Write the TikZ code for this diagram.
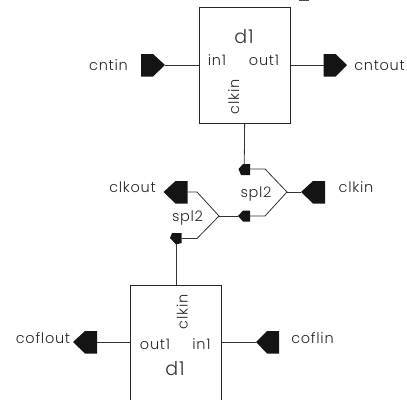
\documentclass[tikz,border=0pt]{standalone}
\usepackage{fontspec}
\setmainfont[LetterSpace=5]{Poppins Light}
\begin{document}
\begin{tikzpicture}[x=1pt,y=-1pt,
  wire/.style={draw=black!80,line width=0.8pt},
  pinfill/.style={fill=black!92,draw=none},
  lbl/.style={inner sep=0pt,text=black!85,anchor=base,font=\fontsize{14.5}{16}\selectfont},
  tt/.style={inner sep=0pt,text=black!80,anchor=base,font=\fontsize{19}{21}\selectfont}]
\useasboundingbox (0,0) rectangle (407,399);
\fill[black!70] (299,-1) rectangle (309,0.9);
% boxes
\node[draw=black!85,line width=0.8pt,minimum width=91.5pt,minimum height=115.5pt,inner sep=0pt,anchor=north west] (b1) at (198.5,7) {};
\node[draw=black!85,line width=0.8pt,minimum width=91.5pt,minimum height=125pt,inner sep=0pt,anchor=north west] (b2) at (129.5,284.7) {};
% labels
\node[tt] (d1a) at (244,43.3) {d1};
\node[lbl] (i1a) at (217,65.5) {in1};
\node[lbl] (o1a) at (264,65.5) {out1};
\node[lbl,rotate=90] (ca) at (239,97) {clkin};
\node[tt] (d1b) at (175,375) {d1};
\node[lbl] (o1b) at (155,349) {out1};
\node[lbl] (i1b) at (201.5,349) {in1};
\node[lbl,rotate=90] (cb) at (187.7,312) {clkin};
\node[lbl] (tcntin) at (108.5,70.7) {cntin};
\node[lbl] (tcntout) at (379.5,70.7) {cntout};
\node[lbl] (tclkout) at (132.5,192.7) {clkout};
\node[lbl] (tclkin) at (356,192.7) {clkin};
\node[lbl] (ts1) at (256,197) {spl2};
\node[lbl] (ts2) at (187.5,221.7) {spl2};
\node[lbl] (tcofout) at (43,343) {coflout};
\node[lbl] (tcofin) at (312.5,343) {coflin};
% pins
\fill[pinfill] (141,54) -- (153,54) -- (165,65) -- (153,76.5) -- (141,76.5) -- cycle;
\coordinate (pcntin) at (165,65);
\fill[pinfill] (323.5,54) -- (335.5,54) -- (347,65) -- (335.5,76.5) -- (323.5,76.5) -- cycle;
\coordinate (pcntout) at (323.5,65);
\fill[pinfill] (325,181) -- (313,181) -- (301,192) -- (313,203.5) -- (325,203.5) -- cycle;
\coordinate (pclkin) at (301,192);
\fill[pinfill] (187.5,181) -- (175.5,181) -- (163.5,192) -- (175.5,203.5) -- (187.5,203.5) -- cycle;
\coordinate (pclkout) at (187.5,192);
\fill[pinfill] (97,331) -- (85,331) -- (73,342) -- (85,353.5) -- (97,353.5) -- cycle;
\coordinate (pcofout) at (97,342);
\fill[pinfill] (279,331) -- (267,331) -- (256,342) -- (267,353.5) -- (279,353.5) -- cycle;
\coordinate (pcofin) at (256,342);
% small pins
\fill[pinfill] (250,164) -- (243,164) -- (238.5,169) -- (241,175) -- (250,175) -- cycle;
\coordinate (s1up) at (244.25,164.5);
\coordinate (s1r) at (250,169);
\fill[pinfill] (250,210.5) -- (243,210.5) -- (238,216) -- (243,221.5) -- (250,221.5) -- cycle;
\coordinate (s2l) at (238,216);
\coordinate (s2r) at (250,216);
\fill[pinfill] (172,233) -- (181.5,233) -- (181.5,243) -- (176,244.5) -- (170,238) -- cycle;
\coordinate (s3r) at (181.5,238.5);
\coordinate (s3d) at (176,244);
% splitter junctions
\coordinate (ja) at (287,192);
\coordinate (ja1) at (265,169);
\coordinate (ja2) at (265,216);
\coordinate (jb) at (219,216);
\coordinate (jb1) at (197,192);
\coordinate (jb2) at (197,238.5);
% wires
\draw[wire] (pcntin) -- (pcntin -| b1.west);
\draw[wire] (pcntout) -- (pcntout -| b1.east);
\draw[wire] (b1.south) -- (s1up);
\draw[wire] (s1r) -- (ja1) -- (ja) -- (ja2) -- (s2r);
\draw[wire] (ja) -- (pclkin);
\draw[wire] (s2l) -- (jb);
\draw[wire] (pclkout) -- (jb1) -- (jb) -- (jb2) -- (s3r);
\draw[wire] (s3d) -- (s3d |- b2.north);
\draw[wire] (pcofout) -- (pcofout -| b2.west);
\draw[wire] (pcofin) -- (pcofin -| b2.east);
\end{tikzpicture}
\end{document}
